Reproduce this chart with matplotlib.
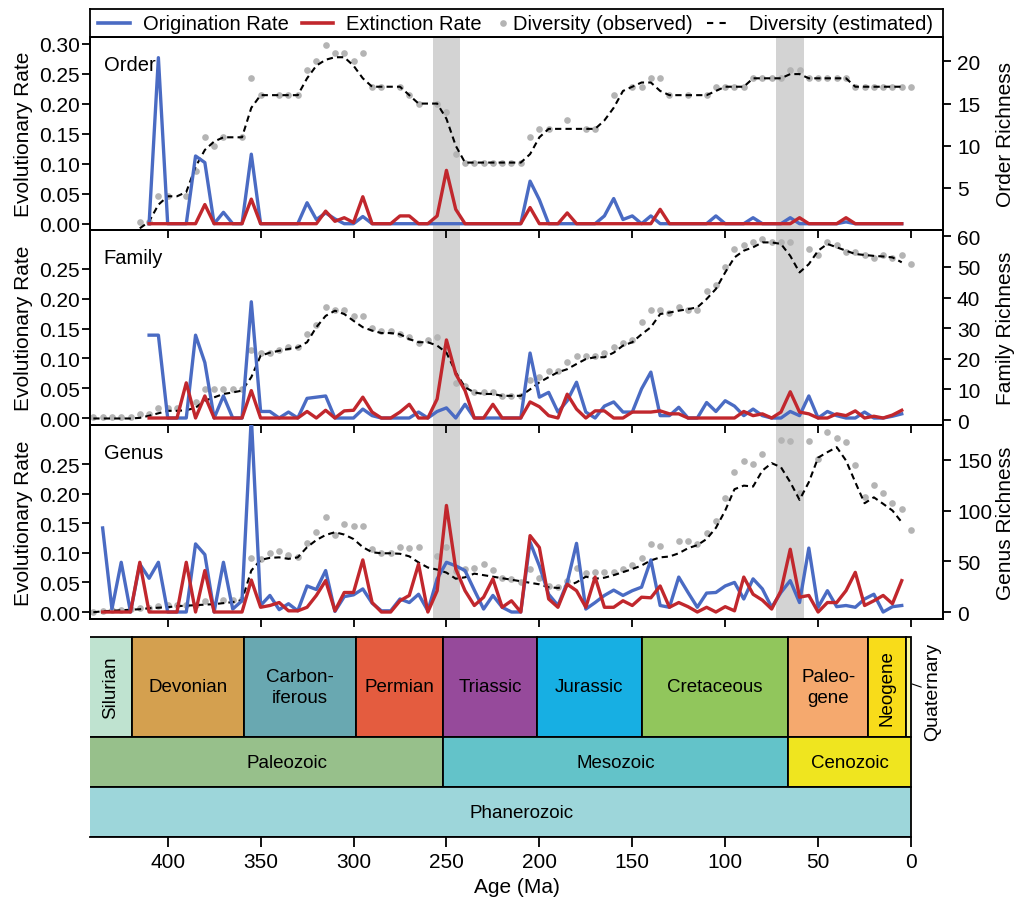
import numpy as np
import matplotlib
matplotlib.use("Agg")
import matplotlib.pyplot as plt
from matplotlib.patches import Rectangle
from matplotlib.ticker import FormatStrFormatter

plt.rcParams['font.family'] = ['Liberation Sans', 'DejaVu Sans']

nan = np.nan
# time bins (Ma), oldest -> youngest
ages = np.arange(440, -1, -5)

# ---------------- ORDER ----------------
order_obs = [nan, nan, nan, nan, nan,
             1, 1, 4, 4, nan,
             4, 7, 11, 10, 11,
             nan, 11, 18, 16, nan,
             16, 16, 16, 19, 20,
             22, 21, 21, 20, 21,
             17, 17, nan, 17, 16,
             15, nan, 15, 14, 9,
             8, 8, 8, 8, 8,
             8, 8, 11, 12, 12,
             nan, 13, nan, 12, 12,
             nan, 16, nan, 17, 17,
             18, 18, 16, nan, 16,
             nan, 16, 17, 17, 17,
             17, 18, 18, 18, 18,
             19, 19, 18, 18, 18,
             18, 18, 17, 17, 17,
             17, 17, 17, 17]
order_est = [nan, nan, nan, nan, nan,
             0.2, 1, 3, 4, 4,
             4.5, 7.5, 9.5, 10.5, 11,
             11, 11, 14.5, 16, 16,
             16, 16, 16, 18, 19.5,
             20.2, 20.5, 20.5, 19.5, 18,
             17, 17, 17, 17, 16,
             15, 15, 15, 13.2, 10,
             8, 8, 8, 8, 8,
             8, 8, 9, 11, 12,
             12, 12, 12, 12, 12,
             13, 14.5, 16.5, 17, 17.5,
             17.5, 16.5, 16, 16, 16,
             16, 16, 16.5, 17, 17,
             17, 18, 18, 18, 18,
             18.5, 18.5, 18, 18, 18,
             18, 18, 17, 17, 17,
             17, 17, 17, nan]
order_orig = [nan, nan, nan, nan, nan,
              nan, 0, 0.277, 0, 0,
              0, 0.113, 0.102, 0, 0.019,
              0, 0, 0.116, 0, 0,
              0, 0, 0, 0.035, 0.007,
              0.018, 0.008, 0, 0, 0.012,
              0, 0, 0, 0, 0,
              0, 0, 0, 0, 0,
              0, 0, 0, 0, 0,
              0, 0, 0.071, 0.04, 0,
              0, 0, 0, 0, 0,
              0.013, 0.042, 0.007, 0.013, 0,
              0.013, 0, 0, 0, 0,
              0, 0, 0.013, 0, 0,
              0, 0.01, 0, 0, 0,
              0.01, 0, 0, 0, 0,
              0, 0.003, 0, 0, 0,
              0, 0, 0, nan]
order_ext = [nan, nan, nan, nan, nan,
             nan, 0, 0, 0, 0,
             0, 0, 0.032, 0, 0,
             0, 0, 0.041, 0, 0,
             0, 0, 0, 0, 0,
             0.021, 0.004, 0.01, 0.002, 0.045,
             0, 0, 0, 0.013, 0.013,
             0, 0, 0.013, 0.089, 0.024,
             0, 0, 0, 0, 0,
             0, 0, 0.027, 0, 0,
             0, 0.018, 0, 0, 0,
             0, 0, 0, 0, 0,
             0, 0.024, 0, 0, 0,
             0, 0, 0, 0, 0,
             0, 0, 0, 0, 0,
             0, 0.01, 0, 0, 0,
             0, 0.01, 0, 0, 0,
             0, 0, 0, nan]

# ---------------- FAMILY ----------------
fam_obs = [1, 1, 1, 1, 1,
           2, 2, 4, 4, 4,
           nan, 6, 10, 10, 10,
           10, 10, 23, 22, 22,
           23, 24, 24, 28, 31,
           37, 36, 36, 34, 34,
           30, 29, 29, 28, 27,
           25, 26, 27, 24, 12,
           11, 9, 9, 9, 8,
           8, 8, 13, 14, 16,
           16, 19, 21, 21, 21,
           22, 24, 25, 26, 32,
           36, 36, 35, 37, 36,
           36, 42, 44, 50, 56,
           57, 58, 59, 58, 58,
           58, nan, 56, 54, 58,
           57, 55, 55, 54, 53,
           54, 53, 54, 51]
fam_est = [0.5, 0.5, 0.5, 0.5, 0.5,
           0.7, 1.4, 2.2, 3, 3,
           3.2, 4, 6.3, 7.4, 8.5,
           9, 9.6, 14, 21, 22,
           22.6, 23.2, 23.7, 25.4, 30.3,
           34, 35.7, 34.6, 32.4, 30.3,
           29.2, 28.4, 28.4, 28, 26.4,
           25.4, 25.4, 24.3, 22, 15.6,
           10.7, 9, 8.5, 8.5, 7.9,
           7.9, 7.9, 10, 12.3, 14,
           15.6, 16.6, 18.3, 19.9, 20.5,
           20.5, 22, 24.3, 25.4, 28,
           30.3, 34.6, 35.1, 35.7, 36.2,
           36.8, 39.5, 42.8, 48.2, 53.1,
           55.3, 56.4, 58, 58, 57.5,
           53.6, 48.2, 50.9, 55.3, 57.5,
           56.4, 55.3, 54.2, 53.9, 53.6,
           53.4, 53.1, 51.5, nan]
fam_orig = [nan, nan, nan, nan, nan,
            nan, 0.139, 0.139, 0, 0,
            0, 0.139, 0.093, 0, 0.037,
            0, 0, 0.195, 0.011, 0.011,
            0, 0.01, 0, 0.033, 0.035,
            0.037, 0, 0, 0, 0.015,
            0.004, 0, 0, 0, 0,
            0.01, 0, 0.011, 0.017, 0,
            0.023, 0, 0, 0, 0,
            0, 0, 0.109, 0.035, 0.043,
            0.01, 0.029, 0.06, 0.01, 0,
            0.02, 0.027, 0.01, 0.01, 0.049,
            0.077, 0.004, 0.004, 0.018, 0,
            0, 0.026, 0.011, 0.029, 0.02,
            0.004, 0.015, 0.004, 0, 0,
            0.011, 0.004, 0.037, 0, 0.011,
            0.004, 0, 0, 0.01, 0,
            0, 0.003, 0.007, nan]
fam_ext = [nan, nan, nan, nan, nan,
           nan, 0, 0, 0, 0,
           0.059, 0, 0.037, 0, 0,
           0, 0, 0.046, 0, 0,
           0, 0, 0, 0.011, 0,
           0.013, 0, 0.012, 0.013, 0.035,
           0.01, 0, 0, 0.01, 0.023,
           0, 0, 0.032, 0.131, 0.074,
           0.046, 0, 0, 0.023, 0,
           0, 0, 0.027, 0.019, 0.004,
           0, 0.04, 0.015, 0, 0.012,
           0.012, 0, 0, 0.01, 0.01,
           0.01, 0.012, 0.007, 0.007, 0,
           0, 0, 0, 0, 0,
           0.011, 0.004, 0.007, 0, 0.01,
           0.044, 0.01, 0.007, 0, 0,
           0.007, 0.004, 0.012, 0, 0.003,
           0, 0.005, 0.013, nan]

# ---------------- GENUS ----------------
gen_obs = [0, 1, 2, 2, 3,
           4, 4, 6, 7, 7,
           7, 7, 11, nan, 12,
           12, 13, 53, 52, 58,
           60, 56, 54, 68, 79,
           94, 76, 87, 85, 85,
           62, 58, 58, 64, 63,
           64, nan, 55, 64, 41,
           43, 44, 47, 42, 34,
           33, 30, 43, 34, 26,
           25, 31, 44, 39, 40,
           40, 40, 43, 46, 53,
           67, 65, nan, 70, 70,
           67, 78, 90, 112, 138,
           149, 146, 156, nan, 169,
           168, 117, 168, 151, 177,
           171, 167, 145, 113, 125,
           117, 107, 102, 81]
gen_est = [0, 1, 1.5, 2, 2.5,
           3, 4, 4.5, 5, 6,
           6.5, 7, 7.5, 8, 9,
           10, 12, 41, 51.5, 53.5,
           54, 52.5, 54, 64, 71,
           76, 78.7, 76.4, 72, 64,
           59, 58, 58, 57.5, 55,
           49, 44, 42, 39, 33,
           34.4, 38, 36.5, 35, 33.5,
           32, 30.5, 29, 27.5, 24.6,
           23.9, 25.6, 29.5, 35, 33,
           34, 36.5, 39.5, 42.5, 46,
           51, 54, 54.8, 58, 63,
           66, 72, 83, 100, 121,
           124.5, 123.6, 139.3, 146.6, 142.6,
           127.9, 110.5, 127.9, 152, 157.4,
           162.3, 149.2, 127.9, 107.2, 113,
           106.6, 100, 88.5, nan]
gen_orig = [nan, 0.142, 0.005, 0.084, 0,
            0.081, 0.057, 0.084, 0, 0,
            0, 0.115, 0.097, 0, 0.084,
            0.005, 0.019, 0.33, 0.011, 0.028,
            0.004, 0.014, 0.002, 0.044, 0.038,
            0.07, 0.001, 0.026, 0.029, 0.039,
            0.015, 0.002, 0.002, 0.022, 0.016,
            0.03, 0.002, 0.056, 0.084, 0.078,
            0.07, 0.037, 0.005, 0.028, 0.008,
            0, 0, 0.118, 0.078, 0.03,
            0.011, 0.05, 0.116, 0.005, 0.016,
            0.028, 0.037, 0.028, 0.036, 0.042,
            0.088, 0.011, 0.008, 0.059, 0.033,
            0.008, 0.032, 0.033, 0.044, 0.05,
            0.022, 0.056, 0.039, 0.008, 0.033,
            0.053, 0.016, 0.108, 0.008, 0.036,
            0.009, 0.011, 0.008, 0.022, 0.03,
            0, 0.009, 0.011, nan]
gen_ext = [nan, 0, 0, 0, 0,
           0.084, 0, 0, 0, 0,
           0.084, 0, 0.07, 0, 0,
           0, 0, 0.054, 0.008, 0.011,
           0.016, 0.002, 0.002, 0.008, 0.028,
           0.053, 0.002, 0.033, 0.033, 0.088,
           0.016, 0, 0, 0.019, 0.028,
           0.081, 0, 0.036, 0.18, 0.073,
           0.036, 0.011, 0.025, 0.056, 0.008,
           0.019, 0, 0.129, 0.109, 0.022,
           0.008, 0.047, 0.036, 0.008, 0.059,
           0.008, 0.008, 0.019, 0.011, 0.025,
           0.024, 0.044, 0.008, 0.016, 0.009,
           0, 0.008, 0, 0.009, 0.002,
           0.059, 0.03, 0.02, 0.005, 0.036,
           0.106, 0.025, 0.028, 0, 0.016,
           0.016, 0.036, 0.067, 0.011, 0.019,
           0.028, 0.014, 0.053, nan]

# mass-extinction shading (centre, Ma)
event_ages = [250.0, 65.0]
event_halfwidth = 7.5

# geologic timescale
period_names = ['Silurian', 'Devonian', 'Carbon-\niferous', 'Permian', 'Triassic',
                'Jurassic', 'Cretaceous', 'Paleo-\ngene', 'Neogene', 'Quaternary']
period_start = [443.8, 419.2, 358.9, 298.9, 251.9, 201.3, 145.0, 66.0, 23.03, 2.58]
period_end = [419.2, 358.9, 298.9, 251.9, 201.3, 145.0, 66.0, 23.03, 2.58, 0.0]
period_colors = ['#bfe3d0', '#d4a04f', '#69a8b1', '#e45c3f', '#964a9b',
                 '#17afe3', '#91c65c', '#f5a96e', '#f8dc1a', '#fbf8a0']
era_names = ['Paleozoic', 'Mesozoic', 'Cenozoic']
era_start = [541.0, 251.9, 66.0]
era_end = [251.9, 66.0, 0.0]
era_colors = ['#97c08b', '#63c3c9', '#efe51f']
eon_name = 'Phanerozoic'
eon_start, eon_end = 541.0, 0.0
eon_color = '#9dd6da'

BLUE = '#4a6bc3'
RED = '#c1272d'
GREY = '#b4b4b4'
SHADE = '#d3d3d3'

W, H = 1018, 904
fig = plt.figure(figsize=(W / 100, H / 100), dpi=100)


def rect(x0, y0, x1, y1):
    return [x0 / W, 1 - y1 / H, (x1 - x0) / W, (y1 - y0) / H]


XLIM = (441.8, -17.2)
XT = [400, 350, 300, 250, 200, 150, 100, 50, 0]
LW_SP = 1.3

panels = [
    dict(name='Order', box=(38, 231), orig=order_orig, ext=order_ext, obs=order_obs, est=order_est,
         ylim=(-0.0105, 0.3115), yt=[0, 0.05, 0.10, 0.15, 0.20, 0.25, 0.30],
         rylim=(0, 22.9), ryt=[5, 10, 15, 20], rlabel='Order Richness'),
    dict(name='Family', box=(231, 426), orig=fam_orig, ext=fam_ext, obs=fam_obs, est=fam_est,
         ylim=(-0.0117, 0.3154), yt=[0, 0.05, 0.10, 0.15, 0.20, 0.25],
         rylim=(-1.63, 62.05), ryt=[0, 10, 20, 30, 40, 50, 60], rlabel='Family Richness'),
    dict(name='Genus', box=(426, 620), orig=gen_orig, ext=gen_ext, obs=gen_obs, est=gen_est,
         ylim=(-0.0118, 0.3159), yt=[0, 0.05, 0.10, 0.15, 0.20, 0.25],
         rylim=(-6.6, 184.1), ryt=[0, 50, 100, 150], rlabel='Genus Richness'),
]

for p in panels:
    y0, y1 = p['box']
    ax = fig.add_axes(rect(90, y0, 943, y1))
    ax2 = ax.twinx()
    ax.set_zorder(ax2.get_zorder() + 1)
    ax.patch.set_visible(False)
    ax2.patch.set_visible(False)
    for c in event_ages:
        ax2.axvspan(c + event_halfwidth, c - event_halfwidth, color=SHADE, lw=0, zorder=0)
    ax2.plot(ages, p['obs'], 'o', color=GREY, ms=4.8, mec='none', zorder=2)
    ax2.plot(ages, p['est'], color='black', lw=1.5, dashes=(3, 2), zorder=3)
    ax.plot(ages, p['orig'], color=BLUE, lw=2.4, zorder=4)
    ax.plot(ages, p['ext'], color=RED, lw=2.4, zorder=5)
    ax.set_xlim(XLIM)
    ax.set_ylim(p['ylim'])
    ax2.set_ylim(p['rylim'])
    ax.set_xticks(XT)
    ax.set_yticks(p['yt'])
    ax.yaxis.set_major_formatter(FormatStrFormatter('%.2f'))
    ax2.set_yticks(p['ryt'])
    ax.tick_params(axis='x', direction='out', length=6, width=LW_SP, labelbottom=False)
    ax.tick_params(axis='y', direction='out', length=5.8, width=LW_SP, labelsize=15, pad=1.5)
    ax2.tick_params(axis='y', direction='out', length=6, width=LW_SP, labelsize=15, pad=4)
    for a in (ax, ax2):
        for s in a.spines.values():
            s.set_linewidth(LW_SP)
    ax.set_ylabel('Evolutionary Rate', fontsize=15)
    ax.yaxis.set_label_coords(-0.067, 0.5)
    ax2.set_ylabel(p['rlabel'], fontsize=15)
    ax2.yaxis.set_label_coords(1.062, 0.5)
    ax.text(0.016, 0.86, p['name'], transform=ax.transAxes, fontsize=14.5,
            ha='left', va='center')

# legend box
axl = fig.add_axes(rect(90, 10, 943, 38))
axl.set_xlim(90, 943)
axl.set_ylim(0, 1)
axl.set_xticks([])
axl.set_yticks([])
for s in axl.spines.values():
    s.set_linewidth(LW_SP)
axl.plot([98, 130], [0.5, 0.5], color=BLUE, lw=2.6)
axl.text(142.7, 0.5, 'Origination Rate', fontsize=14.5, va='center', ha='left')
axl.plot([302, 333], [0.5, 0.5], color=RED, lw=2.6)
axl.text(346, 0.5, 'Extinction Rate', fontsize=14.5, va='center', ha='left')
axl.plot([503], [0.5], 'o', color=GREY, ms=4.8, mec='none')
axl.text(512.7, 0.5, 'Diversity (observed)', fontsize=14.5, va='center', ha='left')
axl.plot([707, 730], [0.5, 0.5], color='black', lw=1.5, dashes=(3, 3))
axl.text(749, 0.5, 'Diversity (estimated)', fontsize=14.5, va='center', ha='left')

# timescale
axt = fig.add_axes(rect(90, 636.5, 943, 838))
axt.set_xlim(XLIM)
axt.set_ylim(0, 4.03)
axt.patch.set_visible(False)
for k in ('top', 'left', 'right'):
    axt.spines[k].set_visible(False)
axt.spines['bottom'].set_linewidth(LW_SP)
axt.spines['bottom'].set_bounds(XLIM[0], 0)
axt.set_yticks([])
axt.set_xticks(XT)
axt.tick_params(axis='x', direction='out', length=7.5, width=LW_SP, labelsize=15, pad=3.5)
axt.set_xlabel('Age (Ma)', fontsize=15, labelpad=4)

for nm, s, e, col in zip(period_names, period_start, period_end, period_colors):
    axt.add_patch(Rectangle((e, 2), s - e, 2, facecolor=col, edgecolor='black', lw=LW_SP))
for nm, s, e, col in zip(era_names, era_start, era_end, era_colors):
    axt.add_patch(Rectangle((e, 1), s - e, 1, facecolor=col, edgecolor='black', lw=LW_SP))
axt.add_patch(Rectangle((eon_end, 0), eon_start - eon_end, 1, facecolor=eon_color,
                        edgecolor='black', lw=LW_SP))

vis_left = 419.2  # labels are centred on the span visible from the Devonian onward
for nm, s, e in zip(period_names, period_start, period_end):
    if nm == 'Quaternary':
        continue
    lo = min(s, XLIM[0])
    xc = (lo + e) / 2
    rot = 90 if nm in ('Silurian', 'Neogene') else 0
    axt.text(xc, 3, nm, ha='center', va='center', fontsize=13.5, rotation=rot,
             linespacing=1.25)
for nm, s, e in zip(era_names, era_start, era_end):
    xc = (min(s, vis_left) + e) / 2
    axt.text(xc, 1.5, nm, ha='center', va='center', fontsize=13.5)
axt.text((min(eon_start, vis_left) + eon_end) / 2, 0.5, eon_name, ha='center',
         va='center', fontsize=13.5)
axt.annotate('Quaternary', xy=(-0.6, 3.06), xytext=(-11.6, 2.92), rotation=90,
             ha='center', va='center', fontsize=14, annotation_clip=False,
             arrowprops=dict(arrowstyle='-', lw=0.8, color='black', shrinkA=0, shrinkB=0))

fig.savefig('out.png', dpi=100)
